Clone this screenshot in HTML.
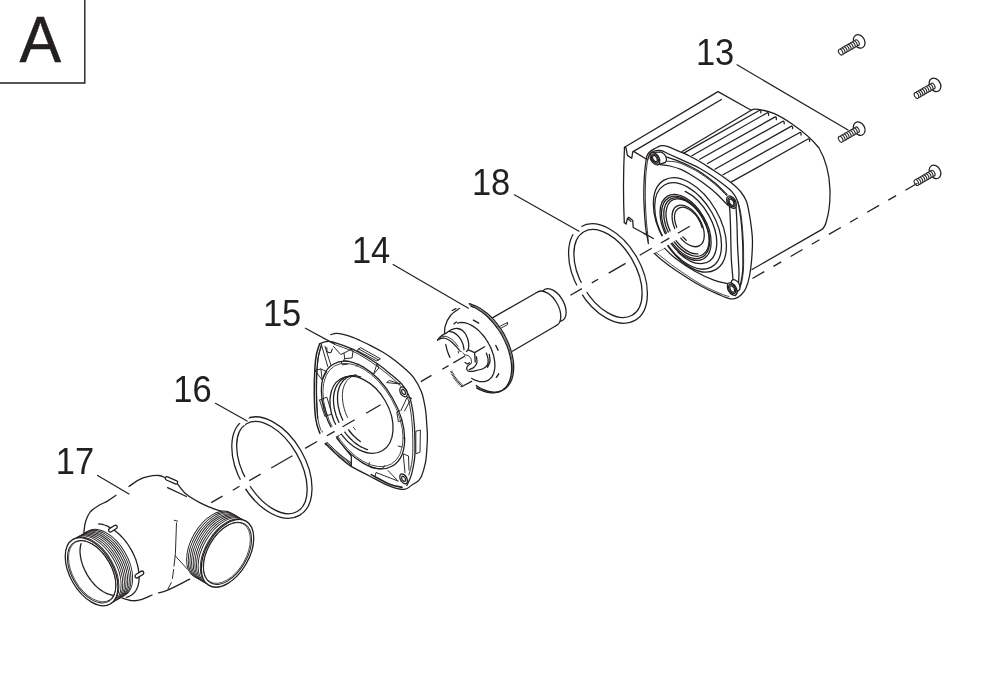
<!DOCTYPE html>
<html><head><meta charset="utf-8"><title>A</title>
<style>
html,body{margin:0;padding:0;background:#fff;}
svg{display:block;will-change:transform;}
svg text{font-family:"Liberation Sans",sans-serif;fill:#231f20;stroke:none;}
</style></head><body>
<svg width="995" height="680" viewBox="0 0 995 680" fill="none" stroke="#231f20" stroke-width="1.28" stroke-linecap="round" stroke-linejoin="round">
<rect x="0" y="0" width="995" height="680" fill="#fff" stroke="none"/>
<path d="M84.8,0 V83 H0" stroke-width="1.4" stroke-linejoin="miter"/>
<text x="19" y="62" font-size="64" transform="translate(40.3 0) scale(0.975 1) translate(-40.3 0)" style="stroke:#231f20;stroke-width:0.5px">A</text>
<text x="694.8" y="65.2" font-size="36.5" transform="translate(715.1 0) scale(0.945 1) translate(-715.1 0)">13</text>
<text x="470.8" y="194.7" font-size="36.5" transform="translate(491.1 0) scale(0.945 1) translate(-491.1 0)">18</text>
<text x="350.8" y="263.5" font-size="36.5" transform="translate(371.1 0) scale(0.945 1) translate(-371.1 0)">14</text>
<text x="261.8" y="326.5" font-size="36.5" transform="translate(282.1 0) scale(0.945 1) translate(-282.1 0)">15</text>
<text x="172.1" y="402.5" font-size="36.5" transform="translate(192.4 0) scale(0.945 1) translate(-192.4 0)">16</text>
<text x="54.6" y="473.7" font-size="36.5" transform="translate(74.9 0) scale(0.945 1) translate(-74.9 0)">17</text>
<path d="M624.5,147.3 L718,91.6 L751.2,110.2 C753,109 756,108.8 760,109.6 C766,110.8 770,112 773.8,113.4 C781,116.5 787,120.5 792.1,124 C803,131.5 812,139 819,148 C826,160 829.5,175 830,190 C830.2,202 829.2,212 826.7,220 C825.8,224.5 824.6,227.6 821.6,229.6 L752,269.5 L735,298 L650,245 L625,224 Z" fill="#fff" stroke="none"/>
<path d="M624.5,147.3 L718,91.6 L751.2,110.2 C753,109 756,108.8 760,109.6 C766,110.8 770,112 773.8,113.4 C781,116.5 787,120.5 792.1,124 C803,131.5 812,139 819,148 C826,160 829.5,175 830,190 C830.2,202 829.2,212 826.7,220 C825.8,224.5 824.6,227.6 821.6,229.6 L752,269.5"/>
<path d="M633.6,151.4 L721.4,99.5"/>
<path d="M624.5,147.3 Q622.6,186 624.3,222.6"/>
<path d="M624.5,147.3 L626,147.8 L627.4,155.4 L631.7,158.3 L632.8,151.7 L633.6,151.4 L646.2,159"/>
<path d="M624.3,222.6 L626.1,224 L627.5,218.2 L628.9,217.3 L632.7,220.4 L633.2,227.5 L647,235 M627.5,218.2 L630.8,221.4"/>
<path d="M682.1,151.5 L751.2,110.2"/>
<path d="M684.2,152.9 L759.7,110.2 q1.6,0.2 1.1,2.6"/>
<path d="M691.9,155.7 L767.4,112.7 q1.6,0.2 1.1,2.6"/>
<path d="M699.7,159.3 L775.2,116.9 q1.6,0.2 1.1,2.6"/>
<path d="M707.5,163.5 L783,121.2 q1.6,0.2 1.1,2.6"/>
<path d="M714.9,169.2 L791.4,126.1 q1.6,0.2 1.1,2.6"/>
<path d="M723,174.8 L799.9,132.5 q1.6,0.2 1.1,2.6"/>
<path d="M731.4,181.9 L808.4,138.8 q1.6,0.2 1.1,2.6"/>
<path d="M646.2,159.7 C646.6,157.3 646.4,157.3 646.9,156.1 C647.4,154.9 647.9,153.7 649.1,152.5 C650.3,151.3 652.2,150.0 654.2,148.9 C656.2,147.8 659.2,146.1 661.4,145.7 C663.6,145.3 663.9,145.2 667.2,146.3 C670.5,147.4 677.2,150.4 681.0,152.1 C684.8,153.8 686.7,154.5 690.0,156.2 C693.3,157.9 697.2,160.0 701.0,162.3 C704.8,164.6 709.4,167.7 713.0,170.0 C716.6,172.3 719.4,174.2 722.4,176.3 C725.4,178.4 728.1,180.2 731.1,182.7 C734.1,185.2 738.0,188.4 740.5,191.5 C743.0,194.6 744.8,197.4 746.3,201.1 C747.8,204.8 748.4,209.1 749.2,213.4 C750.0,217.7 750.8,222.4 751.3,227.0 C751.8,231.6 752.5,235.7 752.5,241.2 C752.5,246.7 752.1,254.2 751.6,260.0 C751.1,265.8 750.4,271.3 749.5,276.0 C748.6,280.7 747.4,284.8 746.0,288.0 C744.6,291.2 742.8,293.3 741.0,295.0 C739.2,296.7 737.3,297.7 735.5,298.3 C733.7,298.9 732.6,299.3 730.2,298.8 C727.8,298.3 725.8,297.6 721.0,295.5 C716.2,293.4 709.0,290.6 701.4,286.3 C693.8,282.1 682.2,274.6 675.3,270.0 C668.4,265.4 663.8,261.5 660.0,258.4 C656.2,255.3 654.3,253.4 652.5,251.5 C650.7,249.6 650.1,249.2 649.3,247.0 C648.4,244.8 648.0,241.3 647.4,238.0 C646.8,234.7 646.2,232.8 645.6,227.0 C645.0,221.2 644.3,210.1 644.0,203.4 C643.7,196.7 643.8,192.5 643.9,187.0 C644.0,181.5 644.4,175.2 644.8,170.6 C645.2,166.0 645.9,162.1 646.2,159.7 Z" fill="#fff"/>
<path d="M647.7,159.7 C648.1,158.7 648.7,155.3 649.8,153.9 C650.9,152.5 652.3,151.5 654.2,151.0 C656.1,150.5 659.0,150.2 661.4,150.7 C663.8,151.2 663.9,151.8 668.7,154.0 C673.5,156.2 684.8,161.2 690.0,163.6 C695.2,166.0 695.9,166.2 700.0,168.5 C704.1,170.8 709.7,174.3 714.5,177.7 C719.3,181.1 725.6,186.0 728.9,188.8 C732.1,191.6 732.6,192.3 734.0,194.3 C735.4,196.3 736.6,198.3 737.5,201.0 C738.4,203.7 738.9,206.5 739.6,210.5 C740.3,214.5 741.0,219.4 741.5,225.0 C742.0,230.6 742.5,238.5 742.7,244.0 C742.9,249.5 742.9,253.6 742.9,258.0 C742.9,262.4 743.0,266.6 742.7,270.6 C742.4,274.6 741.6,279.0 741.0,282.0 C740.4,285.0 740.0,286.2 739.0,288.5 C738.0,290.8 735.9,294.4 735.3,295.6"/>
<path d="M647.7,159.7 C647.4,162.1 646.3,169.1 645.9,174.2 C645.5,179.2 645.4,184.9 645.3,190.0 C645.2,195.1 645.3,200.0 645.5,205.0 C645.7,210.0 645.9,215.3 646.3,220.0 C646.6,224.7 647.3,229.5 647.6,233.0 C647.9,236.5 648.1,239.7 648.2,241.0" stroke-width="0.9"/>
<path d="M644,233.4 L653.4,238.5"/>
<path d="M655.2,253.1 L664.9,248.2" stroke-width="0.5"/>
<path d="M653.5,250.5 C654.9,251.6 658.2,254.3 662.0,257.2 C665.8,260.1 669.4,263.4 676.0,268.0 C682.6,272.6 693.9,280.3 701.4,284.6 C708.9,288.9 716.4,291.8 721.0,293.8 C725.6,295.8 727.7,296.1 729.0,296.5" stroke-width="0.8"/>
<path d="M666.5,157.0 C668.4,157.6 674.0,159.3 677.9,160.8 C681.8,162.3 686.1,164.2 690.0,166.2 C693.9,168.2 697.2,169.9 701.4,172.7 C705.6,175.5 710.7,179.4 715.0,183.0 C719.3,186.6 725.0,192.6 727.0,194.5"/>
<path d="M667.0,161.2 C668.8,161.4 674.1,161.3 677.9,162.4 C681.7,163.5 686.1,165.7 690.0,167.6 C693.9,169.5 697.2,171.3 701.4,174.1 C705.6,176.9 710.8,180.8 715.0,184.4 C719.2,188.0 724.7,193.7 726.6,195.6" stroke-width="0.9"/>
<path d="M660.3,164.7 C661.9,164.9 666.6,165.2 670.0,166.0 C673.4,166.8 677.6,168.0 680.9,169.4 C684.2,170.8 686.3,172.0 690.0,174.2 C693.7,176.4 698.7,179.6 703.0,182.8 C707.3,186.0 711.9,189.5 716.0,193.2 C720.1,196.9 725.6,203.0 727.5,205.0"/>
<path d="M736.0,206.6 C736.2,209.7 736.8,218.8 737.0,225.0 C737.2,231.2 737.3,238.3 737.5,244.1 C737.7,249.9 738.1,255.1 738.4,260.0 C738.6,264.9 739.0,269.8 739.0,273.5 C739.0,277.2 738.6,280.9 738.5,282.4"/>
<path d="M729.5,207.0 C729.6,208.3 729.9,210.9 730.1,214.7 C730.3,218.5 730.5,225.1 730.6,230.0 C730.7,234.9 730.8,238.8 730.9,244.1 C731.0,249.4 731.1,256.1 731.5,262.0 C731.9,267.9 732.8,276.5 733.0,279.4"/>
<path d="M664.8,248.4 C666.5,250.0 670.3,254.4 675.3,258.2 C680.3,262.0 688.4,267.6 694.9,271.3 C701.4,275.0 709.0,278.4 714.5,280.4 C720.0,282.4 725.4,283.0 727.6,283.5"/>
<path d="M737.8,201.5 C738.2,203.0 739.6,206.6 740.3,210.5 C741.0,214.4 741.7,219.4 742.2,225.0 C742.7,230.6 743.2,238.5 743.4,244.0 C743.6,249.5 743.6,253.6 743.6,258.0 C743.6,262.4 743.7,266.6 743.4,270.6 C743.1,274.6 742.3,279.0 741.7,282.0 C741.1,285.0 740.0,287.4 739.7,288.5" stroke-width="0.9"/>
<g transform="matrix(0.866 0.5 0 1 662.40 157.40)"><circle r="4.7" fill="#fff" vector-effect="non-scaling-stroke"/></g>
<path d="M657.5,164.8 L664.6,162.7 L660.2,152.1 L652.3,152.4" fill="#fff" stroke="none"/>
<path d="M657.5,164.8 L664.6,162.7 M660.2,152.1 L652.3,152.4"/>
<g transform="matrix(0.866 0.5 0 1 654.90 158.60)"><circle r="5.6" fill="#fff" vector-effect="non-scaling-stroke"/><circle r="4.1" stroke-width="1.4" vector-effect="non-scaling-stroke"/><circle r="2.8" vector-effect="non-scaling-stroke"/></g>
<g transform="matrix(0.866 0.5 0 1 731.50 202.20)"><circle r="5.6" fill="#fff" vector-effect="non-scaling-stroke"/><circle r="4.1" stroke-width="1.4" vector-effect="non-scaling-stroke"/><circle r="2.8" vector-effect="non-scaling-stroke"/></g>
<g transform="matrix(0.866 0.5 0 1 735.60 285.20)"><circle r="5.0" fill="#fff" vector-effect="non-scaling-stroke"/></g>
<g transform="matrix(0.866 0.5 0 1 732.20 289.00)"><circle r="5.6" fill="#fff" vector-effect="non-scaling-stroke"/><circle r="4.1" stroke-width="1.4" vector-effect="non-scaling-stroke"/><circle r="2.8" vector-effect="non-scaling-stroke"/></g>
<circle r="42.2" transform="matrix(0.866 0.5 0 1 689.90 224.90)" fill="#fff" vector-effect="non-scaling-stroke" />
<circle r="38.6" transform="matrix(0.866 0.5 0 1 688.08 225.95)" fill="#fff" vector-effect="non-scaling-stroke" />
<path d="M-2.92,-33.37 A33.5,33.5 0 1 1 -11.46,31.48" transform="matrix(0.866 0.5 0 1 687.74 226.15)" vector-effect="non-scaling-stroke"/>
<circle r="29.5" transform="matrix(0.866 0.5 0 1 685.57 227.40)" fill="#fff" vector-effect="non-scaling-stroke" />
<circle r="27.8" transform="matrix(0.866 0.5 0 1 685.57 227.40)"  vector-effect="non-scaling-stroke" />
<circle r="26.2" transform="matrix(0.866 0.5 0 1 686.44 226.90)"  vector-effect="non-scaling-stroke" />
<path d="M12.30,21.30 A24.6,24.6 0 1 1 21.30,-12.30" transform="matrix(0.866 0.5 0 1 687.30 226.40)" vector-effect="non-scaling-stroke"/>
<circle r="18.6" transform="matrix(0.866 0.5 0 1 688.17 225.90)" fill="#fff" vector-effect="non-scaling-stroke" />
<path d="M-2.85,16.15 A16.4,16.4 0 1 1 15.41,-5.61" transform="matrix(0.866 0.5 0 1 688.77 225.55)" vector-effect="non-scaling-stroke"/>
<ellipse cx="608.00" cy="273.54" rx="54.1" ry="33.1" transform="rotate(60 608.00 273.54)" fill="#fff"/>
<ellipse cx="608.00" cy="273.54" rx="48.2" ry="27.9" transform="rotate(60 608.00 273.54)" />
<ellipse cx="553.50" cy="305.00" rx="17.9" ry="10.3" transform="rotate(60 553.50 305.00)" fill="#fff"/>
<ellipse cx="547.20" cy="308.60" rx="19.2" ry="11.1" transform="rotate(60 547.20 308.60)" fill="#fff"/>
<path d="M492.9,317.6 L537.6,292 L547.2,308.6 L556.8,325.2 L512.4,351.2 Z" fill="#fff" stroke="none"/>
<path d="M492.9,317.6 L537.6,292 M556.8,325.2 L512.4,351.2"/>
<path d="M499.4,326.6 L507.4,322.6 M500.6,328.4 L507.6,324.6 L507.4,322.6" stroke-width="0.9"/>
<ellipse cx="479.20" cy="347.60" rx="48.7" ry="28.2" transform="rotate(60 479.20 347.60)" fill="#fff" stroke="none"/>
<ellipse cx="477.30" cy="348.70" rx="48.5" ry="28" transform="rotate(60 477.30 348.70)" fill="#fff" stroke="none"/>
<path d="M469.2,303.7 C469.8,303.9 471.5,304.3 472.7,304.8 C473.9,305.2 475.2,305.7 476.4,306.3 C477.6,306.9 478.8,307.6 480.1,308.3 C481.3,309.0 482.5,309.8 483.7,310.7 C485.0,311.6 486.2,312.6 487.4,313.6 C488.6,314.6 489.7,315.7 490.9,316.8 C492.0,318.0 493.2,319.2 494.3,320.4 C495.4,321.7 496.5,323.0 497.5,324.4 C498.5,325.7 499.6,327.1 500.5,328.5 C501.5,330.0 502.4,331.4 503.3,332.9 C504.2,334.4 505.0,335.9 505.8,337.5 C506.6,339.0 507.3,340.6 508.0,342.2 C508.6,343.7 509.3,345.3 509.8,346.9 C510.4,348.5 510.9,350.1 511.3,351.6 C511.8,353.2 512.2,354.8 512.5,356.3 C512.8,357.9 513.1,359.4 513.3,360.9 C513.5,362.4 513.6,363.9 513.6,365.4 C513.7,366.8 513.7,368.3 513.6,369.6 C513.6,371.0 513.4,372.3 513.2,373.6 C513.0,374.9 512.8,376.1 512.4,377.3 C512.1,378.5 511.7,379.6 511.3,380.7 C510.8,381.7 510.3,382.7 509.7,383.7 C509.1,384.6 508.5,385.4 507.8,386.2 C507.2,387.0 506.4,387.7 505.6,388.4 C504.8,389.0 504.0,389.5 503.1,390.0 C502.2,390.5 501.3,390.9 500.3,391.2 C499.4,391.5 498.3,391.7 497.3,391.9 C496.2,392.0 495.2,392.1 494.1,392.1 C493.0,392.0 491.8,391.9 490.7,391.7 C489.5,391.5 488.3,391.3 487.1,390.9 C485.9,390.5 484.7,390.1 483.5,389.6 C482.3,389.1 481.0,388.5 479.8,387.8 C478.6,387.1 476.8,385.9 476.1,385.5" />
<path d="M469.3,304.7 C469.9,304.9 471.7,305.4 472.8,305.9 C474.0,306.4 475.2,306.9 476.4,307.5 C477.6,308.1 478.8,308.8 480.0,309.6 C481.2,310.4 482.4,311.2 483.6,312.1 C484.8,313.0 486.0,314.0 487.1,315.0 C488.3,316.0 489.4,317.1 490.5,318.2 C491.7,319.4 492.8,320.6 493.8,321.8 C494.9,323.1 495.9,324.4 497.0,325.7 C498.0,327.0 498.9,328.4 499.9,329.8 C500.8,331.2 501.7,332.7 502.5,334.1 C503.4,335.6 504.2,337.1 504.9,338.6 C505.7,340.1 506.4,341.7 507.1,343.2 C507.7,344.7 508.3,346.3 508.9,347.8 C509.4,349.4 509.9,350.9 510.3,352.5 C510.7,354.0 511.1,355.6 511.4,357.1 C511.7,358.6 512.0,360.1 512.2,361.6 C512.4,363.0 512.5,364.5 512.5,365.9 C512.6,367.3 512.6,368.7 512.5,370.1 C512.5,371.4 512.4,372.7 512.2,374.0 C512.0,375.3 511.7,376.5 511.4,377.6 C511.1,378.8 510.7,379.9 510.3,380.9 C509.9,382.0 509.4,383.0 508.8,383.9 C508.3,384.8 507.7,385.7 507.0,386.4 C506.4,387.2 505.7,387.9 504.9,388.6 C504.2,389.2 503.3,389.8 502.5,390.3 C501.7,390.8 500.8,391.2 499.8,391.5 C498.9,391.9 497.9,392.1 496.9,392.3 C495.9,392.5 494.9,392.6 493.8,392.6 C492.7,392.6 491.6,392.5 490.5,392.4 C489.4,392.2 488.2,392.0 487.1,391.7 C485.9,391.4 484.7,391.0 483.6,390.5 C482.4,390.0 481.2,389.5 480.0,388.9 C478.8,388.3 477.0,387.1 476.4,386.8" stroke-width="0.7"/>
<path d="M470.8,306.0 C471.3,306.3 473.1,307.0 474.3,307.5 C475.5,308.1 476.7,308.7 477.9,309.5 C479.1,310.2 480.3,311.0 481.5,311.8 C482.7,312.7 483.8,313.6 485.0,314.6 C486.2,315.6 487.3,316.6 488.5,317.7 C489.6,318.8 490.7,320.0 491.8,321.2 C492.9,322.4 493.9,323.7 495.0,325.0 C496.0,326.3 497.0,327.6 497.9,329.0 C498.9,330.4 499.8,331.8 500.7,333.2 C501.6,334.7 502.4,336.2 503.2,337.7 C504.0,339.2 504.7,340.7 505.4,342.2 C506.1,343.7 506.7,345.3 507.3,346.8 C507.9,348.4 508.4,349.9 508.9,351.5 C509.3,353.0 509.7,354.5 510.1,356.1 C510.4,357.6 510.7,359.1 511.0,360.6 C511.2,362.1 511.4,363.5 511.5,365.0 C511.6,366.4 511.6,367.8 511.6,369.2 C511.6,370.6 511.5,371.9 511.3,373.2 C511.2,374.5 511.0,375.7 510.7,376.9 C510.4,378.1 510.1,379.2 509.7,380.3 C509.3,381.4 508.9,382.4 508.4,383.4 C507.9,384.3 507.3,385.2 506.7,386.1 C506.1,386.9 505.4,387.7 504.7,388.3 C504.0,389.0 503.2,389.6 502.4,390.2 C501.6,390.7 500.7,391.2 499.8,391.6 C498.9,392.0 497.9,392.3 497.0,392.5 C496.0,392.7 495.0,392.9 493.9,392.9 C492.9,393.0 491.8,393.0 490.7,392.9 C489.6,392.8 488.5,392.6 487.3,392.4 C486.2,392.1 485.0,391.8 483.8,391.4 C482.7,390.9 481.5,390.4 480.3,389.9 C479.1,389.3 477.3,388.3 476.7,387.9" />
<path d="M459.3,308.5 C457.8,309.6 452.8,312.6 450.5,315.5 C448.1,318.5 446.1,322.4 445.2,326.1 C444.2,329.8 444.5,334.0 444.8,337.9 C445.1,341.8 446.1,346.4 446.9,349.6 C447.8,352.9 449.4,356.0 449.9,357.3"/>
<path d="M452.2,310.5 L455.9,308.6"/>
<path d="M451.1,371.1 C451.8,372.3 453.4,376.0 455.2,378.5 C457.1,381.1 461.1,385.0 462.3,386.2" stroke-width="2.7" stroke-linecap="butt" stroke-dasharray="0.85 0.6"/>
<path d="M461.6,386.7 L471.6,381.4"/>
<path d="M457.6,323.2 C457.9,323.1 458.9,322.8 459.6,322.7 C460.2,322.6 461.0,322.5 461.7,322.5 C462.4,322.5 463.2,322.6 463.9,322.7 C464.7,322.8 465.5,323.0 466.2,323.2 C467.0,323.4 467.8,323.7 468.6,324.0 C469.4,324.3 470.3,324.7 471.1,325.1 C471.9,325.6 472.7,326.0 473.5,326.6 C474.3,327.1 475.1,327.7 475.9,328.3 C476.7,328.9 477.5,329.6 478.3,330.3 C479.1,331.0 479.9,331.8 480.6,332.6 C481.4,333.4 482.1,334.2 482.8,335.0 C483.5,335.9 484.2,336.8 484.9,337.7 C485.6,338.6 486.2,339.6 486.9,340.6 C487.5,341.5 488.1,342.5 488.6,343.5 C489.2,344.5 489.7,345.5 490.2,346.6 C490.7,347.6 491.2,348.7 491.6,349.7 C492.0,350.7 492.4,351.8 492.7,352.9 C493.1,353.9 493.4,355.0 493.7,356.0 C493.9,357.0 494.1,358.1 494.3,359.1 C494.5,360.1 494.6,361.1 494.7,362.1 C494.8,363.1 494.9,364.1 494.9,365.0 C494.9,366.0 494.9,366.9 494.8,367.8 C494.7,368.7 494.6,369.5 494.4,370.4 C494.3,371.2 494.1,372.0 493.8,372.7 C493.6,373.5 493.3,374.2 493.0,374.9 C492.6,375.5 492.3,376.2 491.9,376.8 C491.5,377.3 491.0,377.9 490.5,378.4 C490.1,378.8 489.5,379.3 489.0,379.7 C488.5,380.0 487.9,380.4 487.3,380.6 C486.7,380.9 486.0,381.1 485.4,381.3 C484.7,381.5 484.0,381.6 483.3,381.6 C482.6,381.7 481.9,381.7 481.1,381.6 C480.4,381.6 479.6,381.5 478.8,381.3 C478.1,381.1 477.3,380.9 476.5,380.6 C475.7,380.3 474.9,380.0 474.0,379.6 C473.2,379.2 472.0,378.5 471.6,378.3" />
<path d="M454.0,323.8 L456.4,322.0" stroke-width="1.4"/>
<path d="M473.4,320.2 L478.7,323.2" stroke-width="1.4"/>
<path d="M495.8,345.5 L498.1,350.2" stroke-width="1.4"/>
<path d="M496.4,377.3 L498.7,373.8" stroke-width="1.4"/>
<path d="M437.5,340.2 C438.1,339.5 439.5,337.4 441.1,336.1 C442.6,334.8 445.2,333.7 446.9,332.6 C448.7,331.5 449.9,330.3 451.6,329.6 C453.4,329.0 455.7,328.3 457.5,328.5 C459.4,328.7 461.3,329.5 462.8,330.8 C464.4,332.2 466.0,334.5 466.9,336.7 C467.9,338.9 468.5,341.6 468.7,343.8 C468.9,345.9 468.5,348.4 468.1,349.6 C467.7,350.9 466.6,351.1 466.4,351.4 L459.3,350.2 " fill="#fff" stroke="none"/>
<path d="M437.5,340.2 C438.1,339.5 439.5,337.4 441.1,336.1 C442.6,334.8 445.2,333.7 446.9,332.6 C448.7,331.5 449.9,330.3 451.6,329.6 C453.4,329.0 455.7,328.3 457.5,328.5 C459.4,328.7 461.3,329.5 462.8,330.8 C464.4,332.2 466.0,334.5 466.9,336.7 C467.9,338.9 468.5,341.6 468.7,343.8 C468.9,345.9 468.5,348.4 468.1,349.6 C467.7,350.9 466.6,351.1 466.4,351.4" fill="#fff"/>
<path d="M437.5,340.2 C438.0,339.9 439.1,338.8 440.5,338.5 C441.8,338.2 443.9,337.9 445.8,338.5 C447.6,339.1 449.9,340.6 451.6,342.0 C453.4,343.4 455.1,345.3 456.4,346.7 C457.6,348.1 458.8,349.6 459.3,350.2"/>
<path d="M449.3,331.4 C450.1,331.6 452.3,331.6 454.0,332.6 C455.7,333.6 457.8,335.4 459.3,337.3 C460.8,339.2 462.0,341.7 462.8,343.8 C463.6,345.8 463.8,348.7 464.0,349.6"/>
<path d="M439.3,337.6 C440.4,337.4 443.5,335.9 445.8,336.4 C448.0,336.8 450.8,338.6 452.8,340.2 C454.9,341.9 457.2,345.1 458.1,346.1" stroke-width="0.9"/>
<path d="M484.6,346.7 L474.6,352.6 L475.2,362.0"/>
<path d="M468.4,349.9 L474.6,352.6"/>
<path d="M486.4,353.2 C486.6,354.2 487.9,357.1 488.1,359.1 C488.3,361.0 488.3,363.4 487.5,364.9 C486.7,366.5 485.5,367.5 483.4,368.5 C481.4,369.5 477.5,370.3 475.2,370.8 C472.8,371.3 470.7,371.6 469.3,371.4 C467.9,371.2 467.2,370.5 466.9,369.6 C466.6,368.8 466.9,367.1 467.5,366.1 C468.1,365.1 470.0,364.2 470.5,363.8"/>
<path d="M476.4,356.7 C476.5,357.7 477.3,360.8 476.9,362.6 C476.5,364.4 475.3,366.1 474.0,367.3 C472.7,368.5 470.1,369.3 469.3,369.6"/>
<path d="M489.3,354.4 C489.4,355.5 490.3,359.3 490.0,361.4 C489.7,363.6 487.9,366.3 487.5,367.3"/>
<path d="M459.3,350.8 C460.0,351.2 462.4,351.9 463.4,353.2 C464.4,354.5 464.9,357.6 465.2,358.5" stroke-width="0.9"/>
<path d="M464.0,354.9 C464.7,355.0 466.9,354.8 468.1,355.5 C469.3,356.2 470.5,357.8 471.1,359.1 C471.6,360.3 471.4,362.5 471.4,363.2" stroke-width="0.9"/>
<path d="M464.4,362.0 C464.8,362.3 466.1,363.6 466.9,363.8 C467.8,363.9 468.9,363.0 469.3,362.8" stroke-width="1.3"/>
<path d="M458.1,351.4 L458.7,353.4" stroke-width="0.9"/>
<path d="M330.8,334.6 C332.9,333.8 333.8,333.1 336.8,333.3 C339.8,333.5 344.8,334.7 348.7,335.9 C352.6,337.1 356.2,338.8 360.0,340.5 C363.8,342.2 367.4,343.9 371.2,345.9 C375.0,347.9 379.0,349.9 383.0,352.3 C387.0,354.7 391.5,357.8 395.0,360.4 C398.5,363.0 400.9,365.2 404.0,368.0 C407.1,370.8 410.6,373.4 413.5,377.4 C416.4,381.4 419.5,386.6 421.5,391.9 C423.5,397.2 424.5,403.6 425.4,409.1 C426.3,414.6 426.5,420.4 426.8,425.0 C427.1,429.6 427.4,432.3 427.4,436.5 C427.4,440.7 427.1,445.6 426.8,450.0 C426.5,454.4 426.3,458.5 425.4,462.9 C424.5,467.3 422.8,473.1 421.5,476.2 C420.2,479.3 419.1,480.1 417.5,481.5 C415.9,482.9 414.4,483.5 412.2,484.8 C410.0,486.1 408.1,489.2 404.3,489.4 C400.6,489.6 395.4,488.3 389.7,486.1 C384.0,483.9 376.5,479.6 369.9,476.2 C363.3,472.8 355.3,469.0 350.0,465.6 C344.7,462.2 342.2,459.6 338.1,456.0 C334.0,452.4 328.7,448.2 325.5,444.0 C322.3,439.8 320.5,435.1 318.9,430.8 C317.2,426.5 316.4,424.1 315.6,418.0 C314.8,411.9 314.4,402.6 314.3,394.2 C314.2,385.8 314.5,374.4 314.9,367.7 C315.3,361.0 315.7,358.0 316.5,354.0 C317.3,350.0 318.3,346.6 319.6,343.9 C320.9,341.2 322.6,339.6 324.5,338.0 C326.4,336.4 328.8,335.4 330.8,334.6 Z" fill="#fff" stroke="none"/>
<path d="M330.8,334.6 C331.8,334.4 333.8,333.1 336.8,333.3 C339.8,333.5 344.8,334.7 348.7,335.9 C352.6,337.1 356.2,338.8 360.0,340.5 C363.8,342.2 367.4,343.9 371.2,345.9 C375.0,347.9 379.0,349.9 383.0,352.3 C387.0,354.7 391.5,357.8 395.0,360.4 C398.5,363.0 400.9,365.2 404.0,368.0 C407.1,370.8 410.6,373.4 413.5,377.4 C416.4,381.4 419.5,386.6 421.5,391.9 C423.5,397.2 424.5,403.6 425.4,409.1 C426.3,414.6 426.5,420.4 426.8,425.0 C427.1,429.6 427.4,432.3 427.4,436.5 C427.4,440.7 427.1,445.6 426.8,450.0 C426.5,454.4 426.3,458.5 425.4,462.9 C424.5,467.3 422.8,473.1 421.5,476.2 C420.2,479.3 419.1,480.1 417.5,481.5 C415.9,482.9 414.4,483.5 412.2,484.8 C410.0,486.1 408.1,489.2 404.3,489.4 C400.6,489.6 395.4,488.3 389.7,486.1 C384.0,483.9 376.5,479.6 369.9,476.2 C363.3,472.8 355.3,469.0 350.0,465.6 C344.7,462.2 342.2,459.6 338.1,456.0 C334.0,452.4 327.6,446.0 325.5,444.0"/>
<path d="M325.5,444.0 C324.4,441.8 320.5,435.1 318.9,430.8 C317.2,426.5 316.4,424.1 315.6,418.0 C314.8,411.9 314.4,402.6 314.3,394.2 C314.2,385.8 314.5,374.4 314.9,367.7 C315.3,361.0 315.7,358.0 316.5,354.0 C317.3,350.0 319.1,345.6 319.6,343.9" stroke-width="1.5"/>
<path d="M320.8,430.0 C320.3,428.0 318.5,424.0 317.8,418.0 C317.1,412.0 316.7,402.6 316.6,394.2 C316.5,385.8 316.9,374.4 317.3,367.7 C317.7,361.0 318.2,357.7 319.0,354.0 C319.8,350.3 321.3,346.9 321.8,345.5" stroke-width="0.9"/>
<path d="M326.3,442.9 C328.4,444.9 334.7,451.3 338.9,454.9 C343.1,458.5 349.2,462.7 351.3,464.3" stroke-width="2.4" stroke-linecap="butt" stroke-dasharray="0.85 0.6"/>
<path d="M326.5,441.8 C328.6,443.8 334.9,450.1 339.0,453.6 C343.1,457.1 349.2,461.4 351.3,463.0" stroke-width="0.9"/>
<path d="M351.3,456 L351.3,465.5 M336.8,438.1 L351.3,456"/>
<path d="M371.2,474.6 C374.3,476.2 384.6,482.1 389.7,484.2 C394.8,486.3 399.9,486.8 402.0,487.3" stroke-width="1.6"/>
<path d="M319.6,343.9 C320.7,343.5 323.6,341.9 326.0,341.6 C328.4,341.3 329.7,341.0 334.1,342.3 C338.5,343.6 347.5,346.9 352.6,349.2 C357.8,351.5 360.8,353.5 365.0,356.0 C369.2,358.5 373.7,361.2 377.8,364.1 C381.9,367.0 385.5,369.9 389.7,373.4 C393.9,376.9 399.6,381.3 402.9,385.3 C406.2,389.3 408.0,393.1 409.6,397.2 C411.2,401.3 411.8,405.4 412.6,410.0 C413.4,414.6 413.9,420.0 414.3,425.0 C414.7,430.0 414.8,434.8 414.9,440.0 C415.0,445.2 415.1,451.6 414.8,456.3 C414.5,461.0 413.6,464.7 413.0,468.0 C412.4,471.3 411.9,473.3 410.9,476.2 C409.9,479.1 407.6,483.9 406.9,485.4"/>
<path d="M336.0,345.0 C338.8,346.0 347.8,349.0 352.6,351.2 C357.4,353.4 360.9,355.5 365.0,358.0 C369.1,360.5 373.1,363.2 377.0,366.0 C380.9,368.8 384.5,371.6 388.5,375.0 C392.5,378.4 397.8,382.7 401.0,386.5 C404.2,390.3 406.0,394.1 407.6,398.0 C409.2,401.9 409.7,405.5 410.5,410.0 C411.3,414.5 411.8,420.0 412.2,425.0 C412.6,430.0 412.7,434.8 412.8,440.0 C412.9,445.2 412.9,451.5 412.6,456.0 C412.3,460.5 411.6,463.8 411.0,467.0 C410.4,470.2 409.2,473.7 408.8,475.0" stroke-width="0.9"/>
<path d="M357.3,350.2 L360.6,347.6 L380.4,358.8 L377.1,360.8 Z M358.8,349 L378.6,360" stroke-width="0.95"/>
<path d="M416.2,431.2 L420.4,430 L420,452.2 L416.2,453.6 Z" stroke-width="0.95"/>
<circle r="48.1" transform="matrix(0.866 0.5 0 1 363.00 415.00)" fill="#fff" vector-effect="non-scaling-stroke"/>
<circle r="46.3" transform="matrix(0.866 0.5 0 1 363.00 415.00)" stroke-width="0.8" vector-effect="non-scaling-stroke"/>
<g transform="matrix(0.866 0.5 0 1 403.60 391.90)"><circle r="4.4" fill="#fff" vector-effect="non-scaling-stroke"/><circle r="2.3" vector-effect="non-scaling-stroke"/></g>
<g transform="matrix(0.866 0.5 0 1 403.60 478.80)"><circle r="4.4" fill="#fff" vector-effect="non-scaling-stroke"/><circle r="2.3" vector-effect="non-scaling-stroke"/></g>
<path d="M387,382.6 L400.3,384 L389.7,380.6 Z M404.5,411 L411.5,398 L407,397.5 L401,410.5" stroke-width="0.95"/>
<path d="M398,481 L376,472.5 L375.2,475.8 M398,481 L388,470.5 M405,472.5 L403.2,453.8 L408.5,456 L409,470" stroke-width="0.95"/>
<path d="M321.5,344.5 C321.0,346.6 319.1,352.2 318.2,357.1 C317.4,362.1 317.0,368.1 316.6,374.3 C316.3,380.5 316.2,386.9 316.4,394.2 C316.5,401.5 317.4,414.0 317.6,418.0" stroke-width="1.2"/>
<path d="M321.9,346.5 L327.8,366.6 M324.9,346.3 L330.9,365.1" stroke-width="0.95"/>
<path d="M326.8,347.6 C326.9,348.2 326.6,350.7 327.2,351.6 C327.9,352.4 330.0,353.1 330.8,352.6 C331.6,352.2 332.0,349.5 332.3,348.9" stroke-width="1.1"/>
<path d="M314.9,370.4 L320.9,369.0 L326.8,371.7 L322.2,379.9 L314.9,370.4 M320.9,369.0 L322.2,379.9" stroke-width="0.95"/>
<path d="M333.5,346.5 L340.7,354.5 L344.0,353.1 L351.3,349.2 L352.9,351.3 L352.1,357.9 L344.7,358.7 L343.4,360.6 L348.9,361.4 M344.0,353.1 L344.7,358.7" stroke-width="0.95"/>
<path d="M377.1,363.7 L373.6,374.1 L378.8,368.0 L377.1,363.7" stroke-width="0.95"/>
<path d="M319.6,400.1 L326.8,397.1 L332.1,414.0 L324.9,416.4 L319.6,400.1 M321.9,399.5 L327.2,415.3" stroke-width="0.95"/>
<path d="M322,431 L326,443" stroke-width="0.95"/>
<ellipse cx="361.50" cy="414.75" rx="41.5" ry="27.5" transform="rotate(60 361.50 414.75)" fill="#fff"/>
<path d="M367.5,449.6 C367.0,449.4 365.4,448.9 364.3,448.4 C363.3,448.0 362.2,447.4 361.1,446.9 C360.1,446.3 359.0,445.6 358.0,444.9 C356.9,444.2 355.9,443.5 354.9,442.7 C353.8,441.9 352.8,441.0 351.9,440.1 C350.9,439.2 349.9,438.2 349.0,437.2 C348.1,436.2 347.2,435.1 346.3,434.1 C345.4,433.0 344.6,431.8 343.8,430.7 C343.0,429.5 342.2,428.3 341.5,427.1 C340.8,425.9 340.1,424.7 339.5,423.4 C338.8,422.1 338.2,420.9 337.7,419.6 C337.2,418.3 336.7,417.0 336.2,415.7 C335.8,414.4 335.4,413.0 335.1,411.7 C334.7,410.4 334.4,409.1 334.2,407.8 C334.0,406.5 333.8,405.3 333.7,404.0 C333.6,402.7 333.5,401.5 333.5,400.2 C333.5,399.0 333.5,397.8 333.6,396.6 C333.7,395.5 333.9,394.3 334.1,393.2 C334.3,392.1 334.6,391.0 334.9,390.0 C335.2,389.0 335.6,388.0 336.0,387.1 C336.5,386.1 337.0,385.2 337.5,384.4 C338.0,383.6 338.6,382.8 339.2,382.1 C339.8,381.3 340.5,380.7 341.2,380.1 C341.9,379.4 342.7,378.9 343.5,378.4 C344.2,377.9 345.1,377.5 345.9,377.2 C346.8,376.8 347.7,376.5 348.6,376.3 C349.5,376.1 350.5,375.9 351.4,375.8 C352.4,375.8 353.4,375.7 354.4,375.8 C355.4,375.8 356.5,376.0 357.5,376.1 C358.6,376.3 360.1,376.8 360.7,376.9" />
<path d="M360.3,441.6 C359.8,441.2 358.3,440.1 357.3,439.3 C356.4,438.4 355.4,437.5 354.4,436.6 C353.5,435.7 352.6,434.7 351.7,433.7 C350.8,432.7 349.9,431.6 349.1,430.5 C348.3,429.4 347.5,428.3 346.7,427.1 C346.0,426.0 345.3,424.8 344.6,423.6 C343.9,422.3 343.3,421.1 342.7,419.9 C342.1,418.6 341.6,417.3 341.1,416.1 C340.6,414.8 340.1,413.5 339.7,412.2 C339.3,410.9 339.0,409.7 338.7,408.4 C338.4,407.1 338.1,405.8 338.0,404.6 C337.8,403.3 337.6,402.1 337.6,400.8 C337.5,399.6 337.5,398.4 337.5,397.2 C337.5,396.0 337.6,394.9 337.7,393.8 C337.9,392.7 338.1,391.6 338.3,390.5 C338.6,389.5 338.9,388.5 339.2,387.5 C339.6,386.5 340.0,385.6 340.4,384.7 C340.9,383.9 341.4,383.0 342.0,382.3 C342.5,381.5 343.1,380.8 343.7,380.1 C344.4,379.5 345.1,378.9 345.8,378.4 C346.5,377.8 347.3,377.4 348.1,376.9 C348.9,376.5 349.7,376.2 350.6,375.9 C351.4,375.6 352.3,375.4 353.3,375.3 C354.2,375.1 355.6,375.1 356.1,375.0" />
<path d="M355.3,429.7 C354.9,429.1 353.7,427.6 352.9,426.5 C352.1,425.4 351.4,424.3 350.7,423.1 C350.0,422.0 349.3,420.8 348.6,419.6 C348.0,418.4 347.4,417.2 346.9,416.0 C346.3,414.8 345.8,413.5 345.4,412.3 C344.9,411.0 344.5,409.8 344.2,408.6 C343.8,407.3 343.5,406.1 343.3,404.8 C343.0,403.6 342.8,402.4 342.7,401.2 C342.5,400.0 342.4,398.8 342.4,397.6 C342.3,396.4 342.3,395.3 342.4,394.2 C342.5,393.0 342.6,391.9 342.7,390.9 C342.9,389.8 343.1,388.8 343.4,387.8 C343.7,386.9 344.0,385.9 344.4,385.0 C344.8,384.1 345.2,383.3 345.7,382.5 C346.1,381.7 346.7,381.0 347.2,380.3 C347.8,379.6 348.4,379.0 349.0,378.4 C349.7,377.8 350.4,377.3 351.1,376.9 C351.8,376.4 353.0,375.9 353.4,375.7" stroke-width="0.9"/>
<path d="M341.5,362.2 l0.8,2.6 l5.5,-0.6 M356.2,366.4 l2.2,-2.4 M400,410.5 l-3.2,1.6 l1.6,9.5 l3.4,-1 M401.8,447 l-3.6,-1 M336.5,437 l4,-2.5" stroke-width="0.95"/>
<path d="M369.5,462.5 q-2,3.5 1.5,5 l9,1.5 q4,-0.5 5,-3.5" stroke-width="0.95"/>
<ellipse cx="271.90" cy="467.59" rx="55.2" ry="33.6" transform="rotate(60 271.90 467.59)" fill="#fff"/>
<ellipse cx="271.90" cy="467.59" rx="50.7" ry="28.3" transform="rotate(60 271.90 467.59)" />
<path d="M83.8,533.2 C81.4,521.9 84.4,525.5 85.5,522.0 C86.6,518.5 88.0,514.7 90.3,511.9 C92.6,509.1 96.2,507.1 99.1,505.3 C102.0,503.5 105.1,502.5 107.9,500.9 C110.7,499.2 112.2,497.8 115.7,495.4 C119.2,493.0 125.1,489.1 128.9,486.5 C132.8,483.9 135.7,481.5 138.8,479.9 C141.9,478.2 144.4,477.3 147.7,476.6 C151.0,475.9 155.8,475.3 158.7,475.5 C161.6,475.7 162.2,476.3 165.3,477.7 C168.4,479.1 174.0,481.0 177.5,483.8 C181.0,486.6 182.5,491.1 186.4,494.3 C190.3,497.5 195.7,500.5 200.7,503.1 C205.7,505.7 212.1,508.2 216.2,509.7 C220.2,511.2 221.0,506.8 225.0,511.9 C229.0,516.9 241.7,527.6 240.0,540.0 C238.3,552.4 223.4,579.5 215.0,586.0 C206.6,592.5 197.6,578.5 189.7,579.2 C181.8,579.9 174.2,587.5 167.6,590.2 C161.0,593.0 154.3,594.2 150.0,595.7 C145.7,597.2 144.9,598.6 142.0,599.4 C139.1,600.2 136.1,600.9 132.8,600.7 C129.5,600.5 127.7,599.9 122.2,598.1 C116.7,596.3 106.4,600.8 100.0,590.0 C93.6,579.2 86.2,544.5 83.8,533.2 Z" fill="#fff" stroke="none"/>
<path d="M83.8,533.2 C84.1,531.3 84.4,525.5 85.5,522.0 C86.6,518.5 88.0,514.7 90.3,511.9 C92.6,509.1 96.2,507.1 99.1,505.3 C102.0,503.5 105.1,502.6 107.9,500.9 C110.7,499.2 114.7,496.2 116.0,495.3"/>
<path d="M128.9,486.5 C130.6,485.4 135.7,481.5 138.8,479.9 C141.9,478.2 144.4,477.3 147.7,476.6 C151.0,475.9 155.8,475.3 158.7,475.5 C161.6,475.7 164.2,477.3 165.3,477.7"/>
<path d="M177.5,483.8 C179.0,485.6 182.5,491.1 186.4,494.3 C190.3,497.5 195.7,500.5 200.7,503.1 C205.7,505.7 212.1,508.2 216.2,509.7 C220.2,511.2 223.5,511.5 225.0,511.9"/>
<path d="M167.6,487.6 L186.4,496.5"/>
<path d="M189.7,579.2 C186.0,581.0 172.8,587.9 167.6,590.2 C162.4,592.5 160.0,592.4 158.5,592.8"/>
<path d="M152.0,595.0 C150.3,595.7 145.2,598.4 142.0,599.4 C138.8,600.4 136.1,600.9 132.8,600.7 C129.5,600.5 124.0,598.5 122.2,598.1"/>
<path d="M174.3,520.3 L177.6,521.2 M176.5,522.9 L175.4,553.8 L174,566 M173.6,569.5 L172.4,578.5 M171.3,582.5 L168,589 M175.4,556 L187.5,569.3" stroke-width="0.95"/>
<rect x="-6.6" y="-1.7" width="13.2" height="3.4" rx="1.7" transform="translate(171.5,480.4) rotate(24)" fill="#fff"/>
<path d="M98.6,523.9 C99.1,524.0 100.5,524.1 101.4,524.2 C102.4,524.4 103.4,524.7 104.4,525.0 C105.4,525.3 106.4,525.7 107.4,526.1 C108.4,526.6 109.4,527.1 110.4,527.7 C111.5,528.3 112.5,528.9 113.5,529.6 C114.5,530.3 115.5,531.1 116.5,531.9 C117.5,532.7 118.5,533.6 119.5,534.5 C120.4,535.4 121.4,536.4 122.3,537.4 C123.2,538.4 124.1,539.5 125.0,540.6 C125.9,541.7 126.8,542.8 127.6,544.0 C128.4,545.2 129.2,546.4 129.9,547.6 C130.7,548.8 131.4,550.1 132.1,551.4 C132.7,552.6 133.4,553.9 134.0,555.2 C134.5,556.5 135.1,557.8 135.6,559.1 C136.1,560.4 136.5,561.8 136.9,563.1 C137.3,564.4 137.7,565.7 137.9,567.0 C138.2,568.3 138.5,569.6 138.7,570.8 C138.9,572.1 139.0,573.3 139.1,574.6 C139.1,575.8 139.2,577.0 139.1,578.1 C139.1,579.3 139.0,580.4 138.9,581.5 C138.7,582.6 138.5,583.6 138.3,584.6 C138.1,585.6 137.8,586.6 137.4,587.5 C137.1,588.4 136.7,589.2 136.2,590.0 C135.8,590.8 135.3,591.6 134.7,592.2 C134.2,592.9 133.6,593.5 132.9,594.1 C132.3,594.6 131.6,595.1 130.9,595.5 C130.2,596.0 129.4,596.3 128.6,596.6 C127.9,596.9 126.6,597.1 126.2,597.3" />
<rect x="-4.8" y="-1.8" width="9.6" height="3.6" rx="1.8" transform="translate(112.9,528.6) rotate(-32)" fill="#fff" stroke-width="1.3"/>
<rect x="-4.8" y="-1.8" width="9.6" height="3.6" rx="1.8" transform="translate(139.4,574.5) rotate(-32)" fill="#fff" stroke-width="1.3"/>
<ellipse cx="106.50" cy="563.10" rx="37.0" ry="21.36" transform="rotate(60 106.50 563.10)" fill="#fff" stroke-width="0.9"/>
<ellipse cx="104.85" cy="564.05" rx="37.0" ry="21.36" transform="rotate(60 104.85 564.05)" fill="#fff" stroke-width="0.9"/>
<ellipse cx="103.20" cy="565.00" rx="37.0" ry="21.36" transform="rotate(60 103.20 565.00)" fill="#fff" stroke-width="0.9"/>
<ellipse cx="101.56" cy="565.95" rx="37.0" ry="21.36" transform="rotate(60 101.56 565.95)" fill="#fff" stroke-width="0.9"/>
<ellipse cx="99.91" cy="566.90" rx="37.0" ry="21.36" transform="rotate(60 99.91 566.90)" fill="#fff" stroke-width="0.9"/>
<ellipse cx="98.27" cy="567.85" rx="37.0" ry="21.36" transform="rotate(60 98.27 567.85)" fill="#fff" stroke-width="0.9"/>
<ellipse cx="96.62" cy="568.80" rx="37.0" ry="21.36" transform="rotate(60 96.62 568.80)" fill="#fff" stroke-width="0.9"/>
<ellipse cx="94.98" cy="569.75" rx="37.0" ry="21.36" transform="rotate(60 94.98 569.75)" fill="#fff" stroke-width="0.9"/>
<ellipse cx="92.64" cy="571.10" rx="37.2" ry="21.48" transform="rotate(60 92.64 571.10)" fill="#fff" stroke-width="0.9"/>
<ellipse cx="91.60" cy="571.70" rx="37.3" ry="21.54" transform="rotate(60 91.60 571.70)" fill="#fff" stroke-width="1.3"/>
<ellipse cx="91.60" cy="571.70" rx="34.2" ry="19.75" transform="rotate(60 91.60 571.70)" stroke-width="1.0"/>
<ellipse cx="92.29" cy="571.30" rx="33.6" ry="19.4" transform="rotate(60 92.29 571.30)" stroke-width="0.7"/>
<path d="M113.4,595.3 C113.0,595.2 111.8,595.1 111.0,594.9 C110.1,594.8 109.3,594.5 108.5,594.2 C107.6,593.9 106.8,593.6 105.9,593.2 C105.1,592.8 104.2,592.3 103.3,591.8 C102.5,591.3 101.6,590.7 100.8,590.1 C99.9,589.5 99.1,588.8 98.2,588.1 C97.4,587.4 96.6,586.7 95.8,585.9 C94.9,585.1 94.1,584.2 93.4,583.3 C92.6,582.5 91.8,581.5 91.1,580.6 C90.4,579.6 89.7,578.7 89.0,577.6 C88.3,576.6 87.7,575.6 87.1,574.6 C86.5,573.5 85.9,572.4 85.4,571.4 C84.8,570.3 84.3,569.2 83.8,568.1 C83.4,567.0 82.9,565.9 82.6,564.8 C82.2,563.6 81.8,562.5 81.5,561.4 C81.2,560.3 81.0,559.2 80.8,558.1 C80.5,557.1 80.4,556.0 80.3,554.9 C80.1,553.9 80.1,552.9 80.0,551.8 C80.0,550.8 80.0,549.9 80.1,548.9 C80.2,548.0 80.3,547.0 80.5,546.2 C80.6,545.3 81.0,544.0 81.1,543.6" />
<ellipse cx="212.60" cy="544.70" rx="36.8" ry="21.25" transform="rotate(-60 212.60 544.70)" fill="#fff" stroke-width="0.9"/>
<ellipse cx="214.25" cy="545.65" rx="36.8" ry="21.25" transform="rotate(-60 214.25 545.65)" fill="#fff" stroke-width="0.9"/>
<ellipse cx="215.90" cy="546.60" rx="36.8" ry="21.25" transform="rotate(-60 215.90 546.60)" fill="#fff" stroke-width="0.9"/>
<ellipse cx="217.54" cy="547.55" rx="36.8" ry="21.25" transform="rotate(-60 217.54 547.55)" fill="#fff" stroke-width="0.9"/>
<ellipse cx="219.19" cy="548.50" rx="36.8" ry="21.25" transform="rotate(-60 219.19 548.50)" fill="#fff" stroke-width="0.9"/>
<ellipse cx="220.83" cy="549.45" rx="36.8" ry="21.25" transform="rotate(-60 220.83 549.45)" fill="#fff" stroke-width="0.9"/>
<ellipse cx="222.48" cy="550.40" rx="36.8" ry="21.25" transform="rotate(-60 222.48 550.40)" fill="#fff" stroke-width="0.9"/>
<ellipse cx="224.12" cy="551.35" rx="36.8" ry="21.25" transform="rotate(-60 224.12 551.35)" fill="#fff" stroke-width="0.9"/>
<ellipse cx="226.46" cy="552.70" rx="37.0" ry="21.36" transform="rotate(-60 226.46 552.70)" fill="#fff" stroke-width="0.9"/>
<ellipse cx="227.50" cy="553.30" rx="37.1" ry="21.42" transform="rotate(-60 227.50 553.30)" fill="#fff" stroke-width="1.3"/>
<ellipse cx="227.50" cy="553.30" rx="34.0" ry="19.63" transform="rotate(-60 227.50 553.30)" stroke-width="1.0"/>
<ellipse cx="226.81" cy="552.90" rx="33.4" ry="19.28" transform="rotate(-60 226.81 552.90)" stroke-width="0.7"/>
<g><ellipse cx="859.20" cy="41.40" rx="7.1" ry="5.4" transform="rotate(60 859.20 41.40)" fill="#fff"/><ellipse cx="856.95" cy="42.70" rx="3.2" ry="1.95" transform="rotate(60 856.95 42.70)" fill="#fff" stroke-width="1.0"/><ellipse cx="854.91" cy="43.88" rx="3.2" ry="1.95" transform="rotate(60 854.91 43.88)" fill="#fff" stroke-width="1.0"/><ellipse cx="852.88" cy="45.05" rx="3.2" ry="1.95" transform="rotate(60 852.88 45.05)" fill="#fff" stroke-width="1.0"/><ellipse cx="850.84" cy="46.22" rx="3.2" ry="1.95" transform="rotate(60 850.84 46.22)" fill="#fff" stroke-width="1.0"/><ellipse cx="848.81" cy="47.40" rx="3.2" ry="1.95" transform="rotate(60 848.81 47.40)" fill="#fff" stroke-width="1.0"/><ellipse cx="846.77" cy="48.57" rx="3.2" ry="1.95" transform="rotate(60 846.77 48.57)" fill="#fff" stroke-width="1.0"/><ellipse cx="844.74" cy="49.75" rx="3.2" ry="1.95" transform="rotate(60 844.74 49.75)" fill="#fff" stroke-width="1.0"/><ellipse cx="842.70" cy="50.92" rx="3.2" ry="1.95" transform="rotate(60 842.70 50.92)" fill="#fff" stroke-width="1.0"/><ellipse cx="840.67" cy="52.10" rx="3.2" ry="1.95" transform="rotate(60 840.67 52.10)" fill="#fff" stroke-width="1.0"/></g>
<g><ellipse cx="935.00" cy="84.80" rx="7.1" ry="5.4" transform="rotate(60 935.00 84.80)" fill="#fff"/><ellipse cx="932.75" cy="86.10" rx="3.2" ry="1.95" transform="rotate(60 932.75 86.10)" fill="#fff" stroke-width="1.0"/><ellipse cx="930.71" cy="87.27" rx="3.2" ry="1.95" transform="rotate(60 930.71 87.27)" fill="#fff" stroke-width="1.0"/><ellipse cx="928.68" cy="88.45" rx="3.2" ry="1.95" transform="rotate(60 928.68 88.45)" fill="#fff" stroke-width="1.0"/><ellipse cx="926.64" cy="89.62" rx="3.2" ry="1.95" transform="rotate(60 926.64 89.62)" fill="#fff" stroke-width="1.0"/><ellipse cx="924.61" cy="90.80" rx="3.2" ry="1.95" transform="rotate(60 924.61 90.80)" fill="#fff" stroke-width="1.0"/><ellipse cx="922.57" cy="91.97" rx="3.2" ry="1.95" transform="rotate(60 922.57 91.97)" fill="#fff" stroke-width="1.0"/><ellipse cx="920.54" cy="93.15" rx="3.2" ry="1.95" transform="rotate(60 920.54 93.15)" fill="#fff" stroke-width="1.0"/><ellipse cx="918.50" cy="94.32" rx="3.2" ry="1.95" transform="rotate(60 918.50 94.32)" fill="#fff" stroke-width="1.0"/><ellipse cx="916.47" cy="95.50" rx="3.2" ry="1.95" transform="rotate(60 916.47 95.50)" fill="#fff" stroke-width="1.0"/></g>
<g><ellipse cx="859.20" cy="128.60" rx="7.1" ry="5.4" transform="rotate(60 859.20 128.60)" fill="#fff"/><ellipse cx="856.95" cy="129.90" rx="3.2" ry="1.95" transform="rotate(60 856.95 129.90)" fill="#fff" stroke-width="1.0"/><ellipse cx="854.91" cy="131.07" rx="3.2" ry="1.95" transform="rotate(60 854.91 131.07)" fill="#fff" stroke-width="1.0"/><ellipse cx="852.88" cy="132.25" rx="3.2" ry="1.95" transform="rotate(60 852.88 132.25)" fill="#fff" stroke-width="1.0"/><ellipse cx="850.84" cy="133.42" rx="3.2" ry="1.95" transform="rotate(60 850.84 133.42)" fill="#fff" stroke-width="1.0"/><ellipse cx="848.81" cy="134.60" rx="3.2" ry="1.95" transform="rotate(60 848.81 134.60)" fill="#fff" stroke-width="1.0"/><ellipse cx="846.77" cy="135.78" rx="3.2" ry="1.95" transform="rotate(60 846.77 135.78)" fill="#fff" stroke-width="1.0"/><ellipse cx="844.74" cy="136.95" rx="3.2" ry="1.95" transform="rotate(60 844.74 136.95)" fill="#fff" stroke-width="1.0"/><ellipse cx="842.70" cy="138.12" rx="3.2" ry="1.95" transform="rotate(60 842.70 138.12)" fill="#fff" stroke-width="1.0"/><ellipse cx="840.67" cy="139.30" rx="3.2" ry="1.95" transform="rotate(60 840.67 139.30)" fill="#fff" stroke-width="1.0"/></g>
<g><ellipse cx="935.00" cy="171.90" rx="7.1" ry="5.4" transform="rotate(60 935.00 171.90)" fill="#fff"/><ellipse cx="932.75" cy="173.20" rx="3.2" ry="1.95" transform="rotate(60 932.75 173.20)" fill="#fff" stroke-width="1.0"/><ellipse cx="930.71" cy="174.38" rx="3.2" ry="1.95" transform="rotate(60 930.71 174.38)" fill="#fff" stroke-width="1.0"/><ellipse cx="928.68" cy="175.55" rx="3.2" ry="1.95" transform="rotate(60 928.68 175.55)" fill="#fff" stroke-width="1.0"/><ellipse cx="926.64" cy="176.72" rx="3.2" ry="1.95" transform="rotate(60 926.64 176.72)" fill="#fff" stroke-width="1.0"/><ellipse cx="924.61" cy="177.90" rx="3.2" ry="1.95" transform="rotate(60 924.61 177.90)" fill="#fff" stroke-width="1.0"/><ellipse cx="922.57" cy="179.08" rx="3.2" ry="1.95" transform="rotate(60 922.57 179.08)" fill="#fff" stroke-width="1.0"/><ellipse cx="920.54" cy="180.25" rx="3.2" ry="1.95" transform="rotate(60 920.54 180.25)" fill="#fff" stroke-width="1.0"/><ellipse cx="918.50" cy="181.43" rx="3.2" ry="1.95" transform="rotate(60 918.50 181.43)" fill="#fff" stroke-width="1.0"/><ellipse cx="916.47" cy="182.60" rx="3.2" ry="1.95" transform="rotate(60 916.47 182.60)" fill="#fff" stroke-width="1.0"/></g>
<path d="M689.8,226.3 L641.5,254.2" stroke-linecap="butt" stroke="#fff" stroke-width="10.5"/>
<path d="M608.0,273.5 L569.0,296.1" stroke-linecap="butt" stroke="#fff" stroke-width="10.5"/>
<path d="M464.7,356.3 L440.0,370.5" stroke-linecap="butt" stroke="#fff" stroke-width="10.5"/>
<path d="M380.6,404.8 L308.5,446.5" stroke-linecap="butt" stroke="#fff" stroke-width="10.5"/>
<path d="M271.5,467.8 L226.0,494.1" stroke-linecap="butt" stroke="#fff" stroke-width="10.5"/>
<path d="M689.8,226.3 L677.8,233.2" stroke-linecap="butt" />
<path d="M669.4,238.1 L660.9,243.0" stroke-linecap="butt" />
<path d="M651.7,248.3 L639.7,255.2" stroke-linecap="butt" />
<path d="M625.6,263.4 L608.7,273.1" stroke-linecap="butt" />
<path d="M598.1,279.3 L591.8,282.9" stroke-linecap="butt" />
<path d="M581.9,288.6 L570.4,295.3" stroke-linecap="butt" />
<path d="M464.7,356.3 L453.3,362.9" stroke-linecap="butt" />
<path d="M448.6,365.6 L442.3,369.2" stroke-linecap="butt" />
<path d="M431.5,375.4 L420.8,381.6" stroke-linecap="butt" />
<path d="M380.6,404.8 L366.1,413.2" stroke-linecap="butt" />
<path d="M354.7,419.8 L342.6,426.8" stroke-linecap="butt" />
<path d="M334.6,431.4 L326.9,435.8" stroke-linecap="butt" />
<path d="M317.1,441.5 L305.1,448.4" stroke-linecap="butt" />
<path d="M292.4,455.8 L271.2,468.0" stroke-linecap="butt" />
<path d="M260.6,474.1 L249.3,480.6" stroke-linecap="butt" />
<path d="M239.5,486.3 L232.8,490.2" stroke-linecap="butt" />
<path d="M222.5,496.1 L211.2,502.6" stroke-linecap="butt" />
<path d="M917.4,183.3 L752.4,278.5" stroke-dasharray="13.8 10.8 9 10.6" stroke-linecap="butt"/>
<path d="M737,64.8 L848,130" stroke-width="1.2"/>
<path d="M514.4,194.8 L579,231.3" stroke="#fff" stroke-width="11" stroke-linecap="butt"/>
<path d="M514.4,194.8 L579,231.3" stroke-width="1.2"/>
<path d="M393.1,264.5 L468.4,308.2" stroke-width="1.2"/>
<path d="M305.4,328.2 L335.1,344.4" stroke-width="1.2"/>
<path d="M215.4,403.3 L247.1,421" stroke="#fff" stroke-width="11" stroke-linecap="butt"/>
<path d="M215.4,403.3 L247.1,421" stroke-width="1.2"/>
<path d="M97.6,475.4 L129,493.9" stroke-width="1.2"/>
</svg>
</body></html>
